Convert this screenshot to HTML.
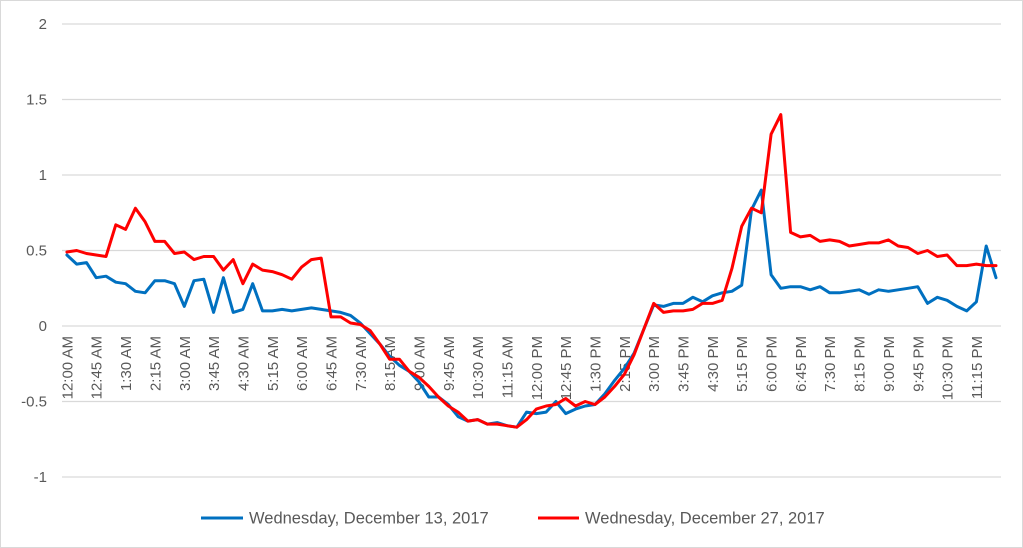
<!DOCTYPE html>
<html><head><meta charset="utf-8"><style>
html,body{margin:0;padding:0;background:#fff}
#c{position:relative;width:1023px;height:548px;border:1px solid #d9d9d9;box-sizing:border-box;overflow:hidden;font-family:"Liberation Sans",sans-serif}
</style></head><body><div id="c"><svg id="s" width="1023" height="548" xmlns="http://www.w3.org/2000/svg"></svg></div>
<script>
const s=document.getElementById('s');
const blue=[0.47,0.41,0.42,0.32,0.33,0.29,0.28,0.23,0.22,0.30,0.30,0.28,0.13,0.30,0.31,0.09,0.32,0.09,0.11,0.28,0.10,0.10,0.11,0.10,0.11,0.12,0.11,0.10,0.09,0.07,0.02,-0.05,-0.12,-0.20,-0.26,-0.30,-0.37,-0.47,-0.47,-0.52,-0.60,-0.63,-0.62,-0.65,
-0.64,-0.66,-0.67,-0.57,-0.58,-0.57,-0.50,-0.58,-0.55,-0.53,-0.52,-0.45,-0.36,-0.28,-0.18,-0.02,0.14,0.13,0.15,0.15,0.19,0.16,0.20,0.22,0.23,0.27,0.77,0.90,
0.34,0.25,0.26,0.26,0.24,0.26,0.22,0.22,0.23,0.24,0.21,0.24,0.23,0.24,0.25,0.26,0.15,0.19,0.17,0.13,0.10,0.16,0.53,0.32];
const red=[0.49,0.50,0.48,0.47,0.46,0.67,0.64,0.78,0.69,0.56,0.56,0.48,0.49,0.44,0.46,0.46,0.37,0.44,0.28,0.41,0.37,0.36,0.34,0.31,0.39,0.44,0.45,0.06,0.06,0.02,0.01,-0.03,-0.12,-0.22,-0.22,-0.30,-0.34,-0.40,-0.47,-0.53,-0.57,-0.63,-0.62,-0.65,-0.65,-0.66,-0.67,-0.62,-0.55,-0.53,-0.52,-0.48,-0.53,-0.50,-0.52,-0.47,-0.40,-0.32,-0.19,-0.02,0.15,0.09,0.10,0.10,0.11,0.15,0.15,0.17,0.38,0.66,0.78,0.75,1.27,1.40,
0.62,0.59,0.60,0.56,0.57,0.56,0.53,0.54,0.55,0.55,0.57,0.53,0.52,0.48,0.50,0.46,0.47,0.40,0.40,0.41,0.40,0.40];
const X=i=>65.9+i*9.78, Y=v=>325-v*151;
let h='';
[2,1.5,1,0.5,0,-0.5,-1].forEach(v=>{h+=`<line x1="61" x2="1000" y1="${Y(v)}" y2="${Y(v)}" stroke="#d9d9d9" stroke-width="1.3"/>`;
h+=`<text x="46" y="${Y(v)+5}" text-anchor="end" font-size="15" fill="#595959">${v}</text>`;});
for(let k=0;k<32;k++){const m=k*45,hh=Math.floor(m/60),mm=m%60;const hr=hh%12==0?12:hh%12;const ap=hh<12?'AM':'PM';
const t=`${hr}:${String(mm).padStart(2,'0')} ${ap}`;const x=X(k*3)+5.5;
h+=`<text transform="translate(${x},335) rotate(-90)" text-anchor="end" font-size="15" fill="#595959">${t}</text>`;}
const path=(d,c)=>`<polyline fill="none" stroke="${c}" stroke-width="3" stroke-linejoin="round" stroke-linecap="round" points="${d.map((v,i)=>X(i).toFixed(1)+','+Y(v).toFixed(1)).join(' ')}"/>`;
h+=path(blue,'#0070c0')+path(red,'#ff0000');
h+=`<line x1="200" x2="242" y1="517" y2="517" stroke="#0070c0" stroke-width="3"/><text x="248" y="522.5" font-size="16.5" fill="#595959">Wednesday, December 13, 2017</text>`;
h+=`<line x1="537" x2="578" y1="517" y2="517" stroke="#ff0000" stroke-width="3"/><text x="584" y="522.5" font-size="16.5" fill="#595959">Wednesday, December 27, 2017</text>`;
s.innerHTML=h;
</script></body></html>
